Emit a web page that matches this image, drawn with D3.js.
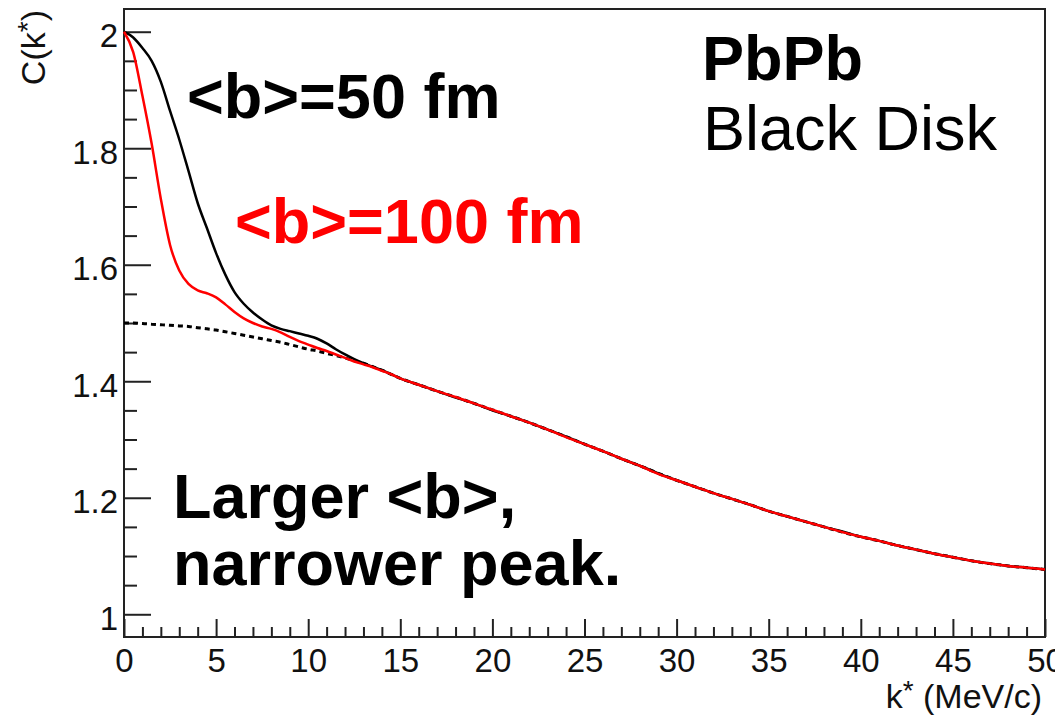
<!DOCTYPE html>
<html>
<head>
<meta charset="utf-8">
<script src="https://cdn.jsdelivr.net/npm/d3@7"></script>
<style>
  html, body { margin: 0; padding: 0; background: #fff; }
  svg { display: block; font-family: "Liberation Sans", Arial, Helvetica, sans-serif; }
</style>
</head>
<body>
<svg id="chart" width="1055" height="718"></svg>
<script>
// k* grid in MeV/c
const kStar = [
  0, 0.5, 1, 1.5, 2, 2.5, 3, 3.5, 4, 4.5, 5, 5.5, 6, 6.5, 7, 7.5,
  8, 8.5, 9, 9.5, 10, 10.5, 11, 11.5, 12, 12.5, 13, 13.5, 14, 14.5, 15,
  16, 17, 18, 19, 20, 21, 22, 23, 24, 25, 26, 27, 28, 29, 30,
  31, 32, 33, 34, 35, 36, 37, 38, 39, 40, 41, 42, 43, 44, 45,
  46, 47, 48, 49, 50
];

// C(k*) for <b> = 50 fm
const c50 = [
  2.000, 1.990, 1.972, 1.950, 1.914, 1.864, 1.815, 1.761, 1.706, 1.663, 1.620, 1.583, 1.553, 1.533, 1.518, 1.506,
  1.496, 1.490, 1.486, 1.482, 1.478, 1.473, 1.465, 1.455, 1.446, 1.438, 1.431, 1.425, 1.419, 1.412, 1.405,
  1.394, 1.383, 1.372, 1.362, 1.350, 1.340, 1.329, 1.317, 1.305, 1.292, 1.280, 1.267, 1.255, 1.242, 1.230,
  1.219, 1.208, 1.198, 1.188, 1.177, 1.168, 1.159, 1.150, 1.142, 1.133, 1.126, 1.118, 1.111, 1.104, 1.098,
  1.092, 1.087, 1.083, 1.080, 1.077
];

// C(k*) for <b> = 100 fm
const c100 = [
  2.000, 1.965, 1.890, 1.808, 1.713, 1.634, 1.590, 1.567, 1.556, 1.551, 1.544, 1.532, 1.519, 1.508, 1.500, 1.494,
  1.490, 1.484, 1.476, 1.469, 1.463, 1.457, 1.452, 1.446, 1.440, 1.434, 1.429, 1.424, 1.418, 1.412, 1.405,
  1.394, 1.383, 1.373, 1.362, 1.351, 1.340, 1.329, 1.317, 1.304, 1.292, 1.280, 1.267, 1.255, 1.241, 1.230,
  1.219, 1.208, 1.198, 1.188, 1.177, 1.168, 1.159, 1.150, 1.141, 1.133, 1.126, 1.118, 1.111, 1.104, 1.098,
  1.092, 1.087, 1.083, 1.080, 1.077
];

// reference curve (dashed)
const cRef = [
  1.500, 1.500, 1.499, 1.498, 1.497, 1.496, 1.495, 1.494, 1.492, 1.490, 1.488, 1.485, 1.482, 1.479, 1.476, 1.473,
  1.470, 1.467, 1.463, 1.459, 1.455, 1.452, 1.448, 1.444, 1.440, 1.435, 1.431, 1.425, 1.419, 1.412, 1.405,
  1.394, 1.383, 1.373, 1.362, 1.351, 1.340, 1.329, 1.317, 1.305, 1.292, 1.280, 1.267, 1.255, 1.242, 1.230,
  1.219, 1.208, 1.198, 1.188, 1.177, 1.168, 1.159, 1.150, 1.141, 1.133, 1.126, 1.118, 1.111, 1.104, 1.098,
  1.092, 1.087, 1.083, 1.080, 1.077
];

const xMajorTicks = [0, 5, 10, 15, 20, 25, 30, 35, 40, 45, 50];
const yMajorTicks = [1, 1.2, 1.4, 1.6, 1.8, 2];

const svg = d3.select("#chart");
const frame = { left: 124, right: 1045, top: 9, bottom: 637 };

const x = d3.scaleLinear().domain([0, 50]).range([frame.left, frame.right]);
const y = d3.scaleLinear().domain([0.961, 2.039]).range([frame.bottom, frame.top]);

const axisColor = "#222";

// minor ticks
const xMinor = d3.range(0, 50.001, 1).filter(v => v % 5 !== 0);
const yMinor = d3.range(0.95, 2.0401, 0.05).map(v => +v.toFixed(2))
  .filter(v => v >= 0.961 && Math.abs(Math.round(v * 5) - v * 5) > 1e-6);

svg.append("g")
  .attr("transform", `translate(0,${frame.bottom})`)
  .call(d3.axisBottom(x).tickValues(xMinor).tickSizeInner(-10).tickSizeOuter(0).tickFormat(""))
  .call(g => g.select(".domain").remove());

svg.append("g")
  .attr("transform", `translate(${frame.left},0)`)
  .call(d3.axisLeft(y).tickValues(yMinor).tickSizeInner(-13).tickSizeOuter(0).tickFormat(""))
  .call(g => g.select(".domain").remove());

// major ticks with labels
const gx = svg.append("g")
  .attr("transform", `translate(0,${frame.bottom})`)
  .call(d3.axisBottom(x).tickValues(xMajorTicks).tickSizeInner(-18).tickSizeOuter(0).tickPadding(8).tickFormat(d3.format("d")))
  .call(g => g.select(".domain").remove());
gx.selectAll("text").attr("y", 35).attr("dy", null)
  .attr("font-size", 33).attr("fill", "#111");

const gy = svg.append("g")
  .attr("transform", `translate(${frame.left},0)`)
  .call(d3.axisLeft(y).tickValues(yMajorTicks).tickSizeInner(-27).tickSizeOuter(0).tickPadding(6).tickFormat(d => d === 1 || d === 2 ? d3.format("d")(d) : d3.format(".1f")(d)))
  .call(g => g.select(".domain").remove());
gy.selectAll("text").attr("x", -6).attr("dy", "0.45em")
  .attr("font-size", 33).attr("fill", "#111");

svg.selectAll(".tick line").attr("stroke", axisColor).attr("stroke-width", 2);

// plot frame
svg.append("rect")
  .attr("x", frame.left).attr("y", frame.top)
  .attr("width", frame.right - frame.left).attr("height", frame.bottom - frame.top)
  .attr("fill", "none").attr("stroke", axisColor).attr("stroke-width", 2);

// curves
const line = (vals) => d3.line()
  .x((d, i) => x(kStar[i]))
  .y(d => y(d))
  .curve(d3.curveMonotoneX)(vals);

svg.append("path").attr("d", line(cRef))
  .attr("fill", "none").attr("stroke", "#000").attr("stroke-width", 3)
  .attr("stroke-dasharray", "5,4");
svg.append("path").attr("d", line(c50))
  .attr("fill", "none").attr("stroke", "#000").attr("stroke-width", 2.5);
svg.append("path").attr("d", line(c100))
  .attr("fill", "none").attr("stroke", "#ff0000").attr("stroke-width", 2.5);

// axis titles
svg.append("text")
  .attr("x", 1042).attr("y", 708).attr("text-anchor", "end")
  .attr("font-size", 34).attr("fill", "#111")
  .call(t => {
    t.append("tspan").text("k");
    t.append("tspan").attr("font-size", 28).attr("dy", -8).text("*");
    t.append("tspan").attr("dy", 8).text(" (MeV/c)");
  });

svg.append("text")
  .attr("transform", "translate(45,10) rotate(-90)")
  .attr("text-anchor", "end")
  .attr("font-size", 34).attr("fill", "#111")
  .call(t => {
    t.append("tspan").text("C(k");
    t.append("tspan").attr("font-size", 28).attr("dy", -8).text("*");
    t.append("tspan").attr("dy", 8).text(")");
  });

// annotations
const notes = [
  { text: "<b>=50 fm", x: 187, y: 118, weight: "bold", color: "#000" },
  { text: "<b>=100 fm", x: 235, y: 243, weight: "bold", color: "#ff0000" },
  { text: "PbPb", x: 702, y: 80, weight: "bold", color: "#000" },
  { text: "Black Disk", x: 703, y: 150, weight: "normal", color: "#000" },
  { text: "Larger <b>,", x: 173, y: 518, weight: "bold", color: "#000" },
  { text: "narrower peak.", x: 173, y: 585, weight: "bold", color: "#000" }
];
svg.selectAll("text.note").data(notes).join("text")
  .attr("class", "note")
  .attr("x", d => d.x).attr("y", d => d.y)
  .attr("font-size", 63)
  .attr("font-weight", d => d.weight)
  .attr("fill", d => d.color)
  .text(d => d.text);
</script>
</body>
</html>
